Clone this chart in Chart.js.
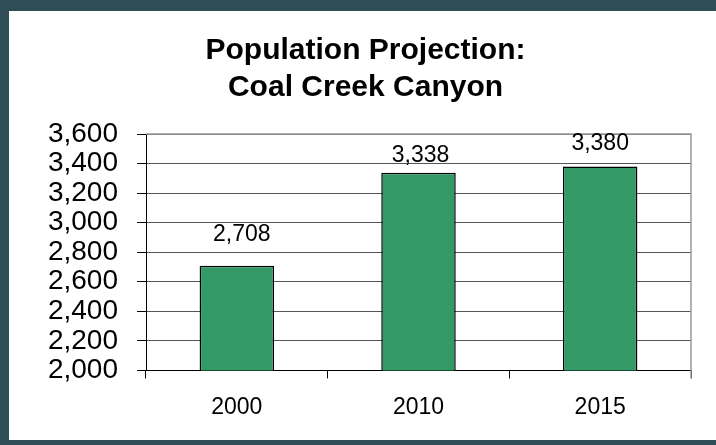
<!DOCTYPE html>
<html>
<head>
<meta charset="utf-8">
<script src="https://cdn.jsdelivr.net/npm/chart.js@4/dist/chart.umd.min.js"></script>
<style>
  html, body { margin: 0; padding: 0; }
  body { width: 716px; height: 445px; background: #2f4d57; position: relative; overflow: hidden; }
  #panel { position: absolute; left: 9px; top: 11px; width: 707px; height: 429px; background: #fff; }
</style>
</head>
<body>
<div id="panel"><canvas id="popChart"></canvas></div>
<script>
// chart data
const years = ['2000', '2010', '2015'];
const population = [2708, 3338, 3380];
const yTicks = [2000, 2200, 2400, 2600, 2800, 3000, 3200, 3400, 3600];
const titleLines = ['Population Projection:', 'Coal Creek Canyon'];

const FONT = '"Liberation Sans", Arial, sans-serif';

// value labels above each bar
const barLabels = {
    id: 'barLabels',
    afterDatasetsDraw(chart, args, opts) {
        const ctx = chart.ctx;
        const meta = chart.getDatasetMeta(0);
        ctx.save();
        ctx.font = '23px ' + FONT;
        ctx.fillStyle = '#000';
        ctx.textAlign = 'center';
        ctx.textBaseline = 'alphabetic';
        meta.data.forEach((bar, i) => {
            const v = chart.data.datasets[0].data[i];
            ctx.fillText(v.toLocaleString('en-US'), bar.x + (opts.dx[i] || 0), bar.y - opts.gap[i]);
        });
        ctx.restore();
    }
};

// gray frame on top and right of plot area
const plotFrame = {
    id: 'plotFrame',
    beforeDatasetsDraw(chart) {
        const { ctx, chartArea: a } = chart;
        ctx.save();
        ctx.strokeStyle = '#999';
        ctx.lineWidth = 1.5;
        ctx.beginPath();
        ctx.moveTo(a.left, a.top);
        ctx.lineTo(a.right, a.top);
        ctx.lineTo(a.right, a.bottom + 8);
        ctx.stroke();
        ctx.restore();
    }
};

new Chart(document.getElementById('popChart'), {
    type: 'bar',
    data: {
        labels: years,
        datasets: [{
            data: population,
            backgroundColor: '#339966',
            borderColor: '#000',
            borderWidth: 1.5,
            barPercentage: 0.41,
            categoryPercentage: 1
        }]
    },
    options: {
        responsive: true,
        maintainAspectRatio: false,
        animation: false,
        layout: { padding: { left: 31, right: 25, top: 0, bottom: 4 } },
        plugins: {
            legend: { display: false },
            tooltip: { enabled: false },
            title: {
                display: true,
                text: titleLines,
                color: '#000',
                font: { family: FONT, size: 30, weight: 'bold', lineHeight: 37 / 30 },
                padding: { top: 21, bottom: 28 }
            },
            barLabels: { gap: [25, 11, 17], dx: [5, 2, 0] }
        },
        scales: {
            x: {
                grid: {
                    drawOnChartArea: false,
                    drawTicks: true,
                    tickLength: 8,
                    tickColor: '#000',
                    color: '#000',
                    offset: true
                },
                border: { color: '#000', width: 1 },
                ticks: { color: '#000', padding: 15, font: { family: FONT, size: 23 } }
            },
            y: {
                min: 2000,
                max: 3600,
                afterFit(scale) { scale.width = 106; },
                afterBuildTicks(scale) { scale.ticks = yTicks.map(v => ({ value: v })); },
                grid: {
                    color: '#555',
                    lineWidth: 1,
                    tickLength: 9,
                    tickColor: '#000'
                },
                border: { color: '#000', width: 1 },
                ticks: {
                    color: '#000',
                    padding: 19,
                    autoSkip: false,
                    font: { family: FONT, size: 28 },
                    callback: v => Number(v).toLocaleString('en-US')
                }
            }
        }
    },
    plugins: [plotFrame, barLabels]
});
</script>
</body>
</html>
